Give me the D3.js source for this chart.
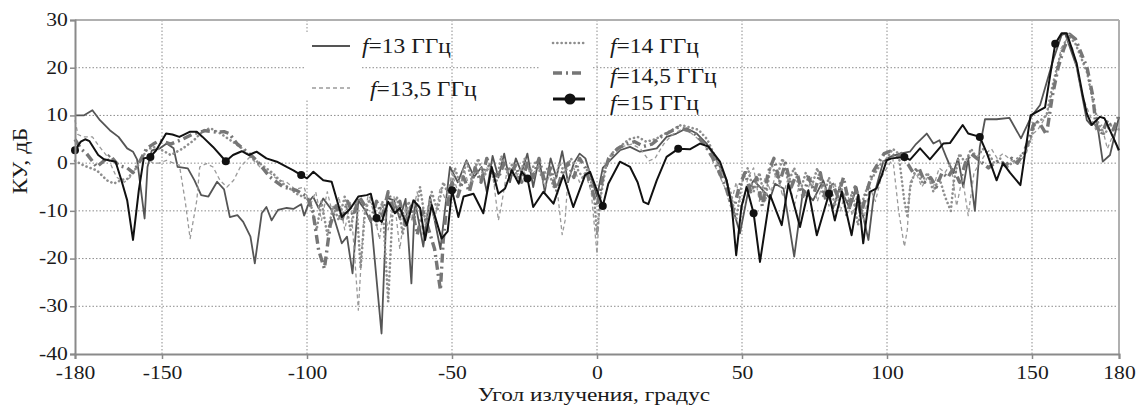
<!DOCTYPE html>
<html><head><meta charset="utf-8">
<script src="https://cdn.jsdelivr.net/npm/d3@7"></script>
<style>body{margin:0;background:#fff}svg{display:block}text{font-family:"Liberation Serif","Times New Roman",serif;fill:#1a1a1a}</style>
</head><body>
<svg id="c" width="1142" height="405"></svg>
<script>
// ---- data (angle in degrees, gain in dB) ----
const xTicks = [-180,-150,-100,-50,0,50,100,150,180];
const yTicks = [-40,-30,-20,-10,0,10,20,30];
const legendLabels = ["=13 ГГц","=13,5 ГГц","=14 ГГц","=14,5 ГГц","=15 ГГц"];
const markerAngles = [-180,-154,-128,-102,-76,-50,-24,2,28,54,80,106,132,158];

const s13 = [[-180,10],[-177,10],[-174,11.1],[-171.4,9],[-168,6.9],[-165,5.5],[-162,3.1],[-160,2.4],[-158.6,0.8],[-156,-11.6],[-155,-0.8],[-153.5,2.7],[-150.7,3.1],[-148.4,4.1],[-146,3.1],[-144.6,-0.8],[-141.1,-1.1],[-138.8,-3.6],[-136.5,-6.7],[-134,-7],[-131,-3.9],[-128.6,-5.5],[-126.6,-11.3],[-124,-10.9],[-122,-12.3],[-119.5,-15.4],[-118,-21],[-115.6,-10.5],[-114,-9.2],[-112.2,-12],[-110,-9.8],[-107,-9.4],[-104.7,-9.6],[-102,-8.6],[-101,-11],[-99,-7.8],[-97.9,-7],[-96,-9.4],[-94.4,-7.4],[-91.5,-9.8],[-88,-16.8],[-86.2,-15.4],[-84.3,-23.1],[-82.3,-7.8],[-80,-9.8],[-77.8,-12.6],[-74.3,-35.7],[-72.4,-7.3],[-70,-7.8],[-68,-11.7],[-66,-7.5],[-64,-25.2],[-62.8,-7.8],[-59.9,-17.5],[-57.6,-7],[-54,-18],[-50.7,-0.8],[-48,-4],[-45,0.6],[-42.4,-2.9],[-39.8,-0.8],[-38,-6],[-36,1.5],[-34,-3],[-32,2],[-30,-4],[-28,1],[-26,-2],[-24,2],[-22,-5],[-20,1],[-18,-6],[-16,1],[-14,-3],[-12,2.5],[-10,-4],[-8,0],[-6,2],[-4,1],[-2,-3],[0,-7],[2,-1],[4.5,0.6],[7.9,2.7],[11.4,3.4],[14.8,2.4],[17.1,2.7],[20.6,3.1],[24,5.5],[27.4,6.2],[30.9,7.3],[34.4,6.2],[37.8,4.1],[41.3,0.6],[44.7,-3.6],[47,-9.8],[49.3,-14.7],[52.2,-5.7],[54,-3.6],[56.2,-5],[59.7,-7.4],[61.4,-4.3],[64.3,-5.3],[68,-19.6],[71.1,-5.5],[74.5,-7.8],[78,-3.6],[81.4,-9.5],[83.7,-5],[87.2,-9.5],[89.5,-5],[93.6,-16.1],[95.4,-7],[98.7,0.3],[101,1.3],[104.5,2],[107.9,2.4],[110,4],[113.7,6.2],[116,4.1],[118.1,4.8],[120.4,1.3],[122.8,-2.1],[124.5,1],[126.3,-5],[128,1],[130.3,-10],[132,3.4],[133.8,9.2],[137.8,9.2],[142.2,9.5],[146.2,5.2],[149.7,9.7],[152.8,12.2],[157.3,21.6],[160.2,26.8],[161.4,27.2],[165.4,20.2],[168.9,9],[170.3,8],[172.3,9],[174.4,0.3],[176.9,1.7],[180,9.7]];

const s135 = [[-180,9],[-179,6],[-177,5.5],[-174,5.5],[-171.5,3.4],[-169,1.5],[-165.7,-2.9],[-163,-4],[-161,-3],[-159,-1],[-156.3,1.3],[-153,0],[-151,0],[-148.4,0.6],[-146,0],[-144,-0.4],[-142,-8],[-140.3,-15.8],[-138,-7.8],[-137,-0.8],[-134.7,-0.1],[-132.4,-0.8],[-130,-3.6],[-127.6,-5],[-125.3,-3.6],[-123,-0.8],[-119.7,1.3],[-116.2,-0.8],[-113,-2],[-110,-3.5],[-107,-4],[-104,-5.5],[-101,-5],[-99,-9],[-97,-6],[-95,-12],[-93,-6],[-91,-11],[-89,-7],[-87,-14],[-85,-8],[-83.5,-20],[-82.3,-30.8],[-80.5,-12],[-79,-7],[-77,-10],[-75,-16],[-73.5,-9],[-72,-14],[-70,-7],[-68,-18],[-66,-9],[-64,-12],[-62,-6],[-60,-15],[-58,-8],[-56,-12],[-54,-5],[-52,-8],[-50,-2],[-48,-6],[-46,-1],[-44,-5],[-42,0],[-40,-4],[-38,-1],[-36,-2],[-34,-12],[-33,-9],[-31,-1.5],[-28,-3],[-26,-1],[-24,-3],[-22,-2],[-20,-1],[-18,-5],[-16,-2],[-14,-4],[-12,-15],[-11,-12],[-10,-3],[-8,-1],[-6,-4],[-4,-2],[-2,-6],[0,-19],[1,-8],[3,0],[6,2],[9,3.5],[12,4],[15,3],[18,0.5],[20,1],[23,4],[26,6],[29,7],[32,6.5],[35,5],[38,3],[41,-1],[44,-5],[46,-9],[48,-4],[50,-10],[52,-3],[54,-1],[56,-8],[58,-3],[60,-6],[62,-1.5],[64,-7],[66,-3],[68,-9],[70,-4],[72,-7],[74,-3],[76,-8],[78,-4],[80,-9],[82,-4],[84,-10],[86,-5],[88,-11],[90,-6],[92,-12],[94,-5],[96,-8],[98,-3],[100,-1],[102,1],[104,-10],[106,-17.5],[107,-14],[108,-4],[110,-2],[112,-5],[114,-3],[116,-5],[118,-1],[120,-2],[122,0],[124,-9],[126,-3],[128,-11],[130,-2],[132,0],[134,2],[136,3],[138,1],[140,2],[142,1],[144,0],[146,0.5],[148,2],[150,6],[152,7],[155,10],[158,17],[160,24],[162,26],[164,24],[166,18],[168,13],[170,10],[172,7],[174,8],[176,3],[178,6],[180,2]];

const s14 = [[-180,0.5],[-177,-0.5],[-172.5,-1.5],[-169,-3.6],[-166.6,-4.3],[-164,-3.5],[-162,-3.3],[-158.6,-0.8],[-155.3,2.7],[-153,3.4],[-150,2.7],[-147,1.7],[-143,3],[-139,4.8],[-135.6,6.9],[-133.3,7.3],[-129.8,6.2],[-126.4,4.8],[-123,3.4],[-119.5,1.3],[-116.2,-0.1],[-112,-2],[-108.2,-4.3],[-103.6,-6.4],[-99,-7.8],[-96.7,-14],[-95,-8],[-93,-15],[-91,-9],[-89,-12],[-87,-7],[-85,-14],[-83,-8],[-81.5,-22],[-80,-10],[-78,-7],[-76,-13],[-74,-8],[-72,-29],[-70.5,-10],[-69,-7],[-67,-15],[-65,-8],[-63,-12],[-61,-5],[-59,-13],[-57,-6],[-55,-10],[-53,-4],[-51,-7],[-49,-1],[-47,-5],[-45,0.5],[-43,-4],[-41,1],[-39,-3],[-37,0],[-35,-5],[-33,1.5],[-31,-2],[-29,0],[-27,-4],[-25,1],[-23,-2],[-21,0.5],[-19,-3],[-17,-1],[-15,-5],[-13,0],[-11,-2],[-9,1],[-7,-1],[-5,-3],[-3,-1],[-1,-7],[0,-15],[1,-8],[3,-1],[5,2],[8,3.5],[11,5],[14,5.5],[17,4.5],[20,5],[23,6],[26,7],[29,8],[32,7.5],[35,7],[38,5],[41,1],[44,-3],[46,-6],[48,-12],[50,-4],[52,-1],[54,-6],[56,-2],[58,-8],[60,0],[62,-3],[64,1],[66,-4],[68,-1],[70,-6],[72,-2],[74,-5],[76,-1],[78,-7],[80,-3],[82,-9],[84,-4],[86,-11],[88,-6],[90,-13],[92,-7],[94,-4],[96,-2],[98,0],[100,1],[102,3],[104,2],[106,-8],[107,-11],[108,-5],[110,-1],[112,-4],[114,-2],[116,-6],[118,-3],[120,-7],[122,-10],[123,-4],[125,2],[127,0],[129,3],[131,1],[133,3],[135,2],[137,0],[139,1],[141,-1],[143,0],[145,1],[147,2],[149,4],[151,8],[153,9],[155,10],[157,16],[159,21],[161,25],[163,26.5],[165,25],[167,22],[169,19],[171,13],[173,8],[175,6],[177,8],[180,7]];

const s145 = [[-180,5],[-178,3],[-176,2],[-172.5,-0.8],[-170,0.5],[-168,1.7],[-165,-0.5],[-162,-1],[-160,-2],[-158,0],[-155.3,3.1],[-153,4],[-150.7,4.8],[-147,4],[-143,5],[-139,6.2],[-135,6.8],[-131,6.5],[-128.6,6.6],[-126.8,6.2],[-124.2,4.1],[-120,2],[-117.4,0.6],[-112.8,-2.9],[-108.2,-5],[-103.6,-5.7],[-100,-7],[-98,-10],[-96,-18.2],[-94,-22.1],[-92,-13],[-90,-9],[-88,-12],[-86,-8],[-84,-11],[-82,-7],[-80,-9],[-78,-12],[-76,-8],[-74,-11],[-72,-6],[-70,-10],[-68,-8],[-66,-13],[-64,-9],[-62,-15],[-60,-10],[-58,-14],[-56,-18],[-54,-26.6],[-53,-16],[-52,-10],[-50,-4],[-48,-7],[-46,-3],[-44,-6],[-42,-1],[-40,-4],[-38,1],[-36,-2],[-34,-3],[-32,0],[-30,-2],[-28,-0.5],[-26,-4],[-24,0],[-22,-3],[-20,1],[-18,-4],[-16,-1],[-14,-6],[-12,-2],[-10,0],[-8,-3],[-6,1],[-4,-1],[-2,-5],[0,-9],[2,-3],[4,1],[7,3],[10,4],[13,4.5],[16,3.5],[19,4],[22,5.5],[25,6.5],[28,7.5],[31,7],[34,6],[37,4],[40,1],[43,-3],[45,-6],[47,-10],[49,-5],[51,-2],[53,-6],[55,-3],[57,-9],[59,-2],[61,1],[63,-4],[65,0],[67,-5],[69,-2],[71,-7],[73,-3],[75,-6],[77,-2],[79,-8],[81,-4],[83,-7],[85,-3],[87,-9],[89,-5],[91,-11],[93,-6],[95,-2],[97,0],[99,2],[101,2.5],[103,1],[105,2],[107,0],[109,-2],[111,-1],[113,-4],[115,-3],[117,-5],[119,-2],[121,-3],[123,-1],[125,-4],[127,0],[129,2],[131,1],[133,0],[135,-1],[137,0],[139,0.5],[141,-0.5],[143,1],[145,0],[147,2],[149,5],[151,9],[153,8],[155,6],[157,14],[159,20],[161,24],[163,27],[165,26],[167,23],[169,20],[171,14],[172,8],[174,6],[176,9],[178,7],[180,10]];

const s15 = [[-180,2.7],[-178,4.5],[-176.5,5],[-175,4.6],[-172,1.7],[-170,0.8],[-166,0.3],[-164,-3.6],[-162,-7.8],[-160,-16.1],[-158,-5.7],[-156.3,1],[-154,1.3],[-152,2.7],[-148.6,6.2],[-146.4,6],[-144,5.5],[-140.3,6.6],[-138,6.6],[-136,5.5],[-132.4,3.4],[-128,0.4],[-125.5,1.7],[-122.5,2.5],[-120,1.7],[-117.4,2.4],[-114,1],[-110.4,0.3],[-107,-0.8],[-104.7,-1.5],[-102,-2.5],[-100,-3.2],[-97.8,-1.8],[-94.4,-3.6],[-91.5,-3.9],[-88,-11.3],[-85,-9.5],[-82.3,-7],[-79.4,-6.7],[-78,-6.4],[-76,-11.5],[-74.2,-12.3],[-72,-8.1],[-69.7,-10.5],[-68,-9.4],[-65.6,-13],[-63.3,-7.8],[-61,-9.4],[-59.3,-16.1],[-57,-8.8],[-53.6,-15.8],[-51.5,-14.3],[-50,-5.7],[-47.8,-11.3],[-46,-7],[-42.6,-6.4],[-39.2,-10.5],[-36.3,-0.8],[-34,-6.4],[-31.7,-5.3],[-29.4,-1.5],[-27,-4.3],[-26,-1.8],[-24,-3.2],[-22,-9.2],[-18.5,-6],[-15,-8.5],[-11.6,-2.5],[-8.2,-9.2],[-4.1,-2.5],[-2.4,-1.8],[2,-9],[3.9,-4.3],[7.9,0.3],[11.4,-0.8],[14,-4],[16,-8.1],[17.7,-8.6],[20.6,-3.6],[24,1.3],[28,3],[32,2.9],[35.5,4.1],[38.4,3.5],[42.4,0.3],[44.7,-3.6],[46.5,-9.2],[48,-19.3],[49.8,-9.2],[51.6,-5],[54,-10.5],[56.2,-20.7],[59.7,-6.7],[63.7,-13],[66,-4.3],[70,-13.4],[72.9,-5.7],[75.8,-15.1],[80,-6.4],[82,-12],[84.4,-6],[87.8,-15.1],[90.1,-6.7],[91.8,-16.8],[94.1,-6],[96.4,-5.3],[98.2,-2.5],[99.9,0.6],[101.6,1],[106,1.3],[107.9,0.7],[111.4,3.1],[114.8,0.8],[119.4,4.1],[121.7,4.2],[126.1,8],[128,6.2],[132,5.5],[134.5,2],[137.8,-3.6],[140,0],[142.4,-2],[146,-4.6],[149.5,10],[154.5,11.7],[158,25],[160.2,27.2],[162,27.2],[165.4,20.9],[167.6,13.9],[168.9,10.4],[170.6,8],[173.4,9.7],[175,9.4],[180,2.7]];

// ---- drawing ----
const svg = d3.select("#c");
const x = d3.scaleLinear().domain([-180,180]).range([75,1119]);
const y = d3.scaleLinear().domain([-40,30]).range([354,20]);
const SX = 1.2; // horizontal stretch of the source figure's lettering

// grid
const g = svg.append("g");
g.selectAll(".vg").data(xTicks.filter(d=>d>-180&&d<180)).enter().append("line")
  .attr("x1",d=>x(d)).attr("x2",d=>x(d)).attr("y1",y(30)).attr("y2",y(-40))
  .attr("stroke","#8c8c8c").attr("stroke-width",1).attr("stroke-dasharray","1.5,2");
g.selectAll(".hg").data(yTicks.filter(d=>d>-40&&d<30)).enter().append("line")
  .attr("x1",x(-180)).attr("x2",x(180)).attr("y1",d=>y(d)).attr("y2",d=>y(d))
  .attr("stroke","#8c8c8c").attr("stroke-width",1).attr("stroke-dasharray","1.5,2");
// frame top/right
svg.append("line").attr("x1",x(-180)).attr("x2",x(180)).attr("y1",y(30)).attr("y2",y(30)).attr("stroke","#b0b0b0").attr("stroke-width",2);
svg.append("line").attr("x1",x(180)).attr("x2",x(180)).attr("y1",y(30)).attr("y2",y(-40)).attr("stroke","#b0b0b0").attr("stroke-width",2);

// legend white backgrounds (behind curves)
svg.append("rect").attr("x",306).attr("y",34).attr("width",56).attr("height",66).attr("fill","#fff");
svg.append("rect").attr("x",540).attr("y",32).attr("width",52).attr("height",80).attr("fill","#fff");

const line = d3.line().x(d=>x(d[0])).y(d=>y(d[1]));
const styles = [
  {data:s13, stroke:"#555", w:1.8, dash:null, cap:"butt"},
  {data:s135, stroke:"#9a9a9a", w:1.3, dash:"4,3", cap:"butt"},
  {data:s14, stroke:"#8e8e8e", w:2.6, dash:"0.1,4.2", cap:"round"},
  {data:s145, stroke:"#767676", w:3.4, dash:"9,4,2,4", cap:"butt"},
  {data:s15, stroke:"#111", w:2, dash:null, cap:"butt"}
];
styles.forEach(s=>{
  svg.append("path").datum(s.data).attr("d",line).attr("fill","none")
    .attr("stroke",s.stroke).attr("stroke-width",s.w).attr("stroke-linejoin","round")
    .attr("stroke-linecap",s.cap).attr("stroke-dasharray",s.dash);
});
svg.selectAll(".mk").data(s15.filter(d=>markerAngles.includes(d[0]))).enter().append("circle")
  .attr("cx",d=>x(d[0])).attr("cy",d=>y(d[1])).attr("r",4).attr("fill","#111");

// axes
const xa = svg.append("g").attr("transform",`translate(0,${y(-40)})`)
  .call(d3.axisBottom(x).tickValues(xTicks).tickSize(5).tickFormat(d=>d));
const ya = svg.append("g").attr("transform",`translate(${x(-180)},0)`)
  .call(d3.axisLeft(y).tickValues(yTicks).tickSize(5).tickFormat(d=>d));
[xa,ya].forEach(a=>{
  a.attr("font-family",null);
  a.select(".domain").attr("stroke","#8a8a8a").attr("stroke-width",2);
  a.selectAll(".tick line").attr("stroke","#8a8a8a").attr("stroke-width",1.5);
  a.selectAll("text").style("font-family",'"Liberation Serif","Times New Roman",serif').style("font-size","18px").attr("fill","#1a1a1a")
   .attr("transform",`scale(${SX},1)`);
});
xa.selectAll("text").attr("y",7.5).attr("dy",null).attr("dominant-baseline",null)
  .each(function(){ d3.select(this).attr("y",25.5); });
ya.selectAll("text").attr("x",-6).attr("dy","0.3em");

// axis titles
svg.append("text").attr("transform",`translate(594,400.6) scale(1.23,1)`).attr("text-anchor","middle").style("font-size","19px").text("Угол излучения, градус");
svg.append("text").attr("transform",`translate(27,161) rotate(-90) scale(1.14,1)`).attr("text-anchor","middle").style("font-size","21px").text("КУ, дБ");

// legend
const legY = [46,88,43,73,99];
const legX = [312,312,553,553,553];
const legTX = [362,370,610,610,610];
const legTY = [53,96,53,83,110];
styles.forEach((s,i)=>{
  svg.append("line").attr("x1",legX[i]).attr("x2",legX[i]+(i<2?38:32)).attr("y1",legY[i]).attr("y2",legY[i])
    .attr("stroke",s.stroke).attr("stroke-width",i===4?3:s.w).attr("stroke-linecap",s.cap).attr("stroke-dasharray",s.dash);
  if(i===4) svg.append("circle").attr("cx",legX[i]+17).attr("cy",legY[i]).attr("r",5.5).attr("fill","#111");
  const t = svg.append("text").attr("transform",`translate(${legTX[i]},${legTY[i]}) scale(1.12,1)`).style("font-size","21px");
  t.append("tspan").style("font-style","italic").text("f");
  t.append("tspan").text(legendLabels[i]);
});
</script>
</body></html>
